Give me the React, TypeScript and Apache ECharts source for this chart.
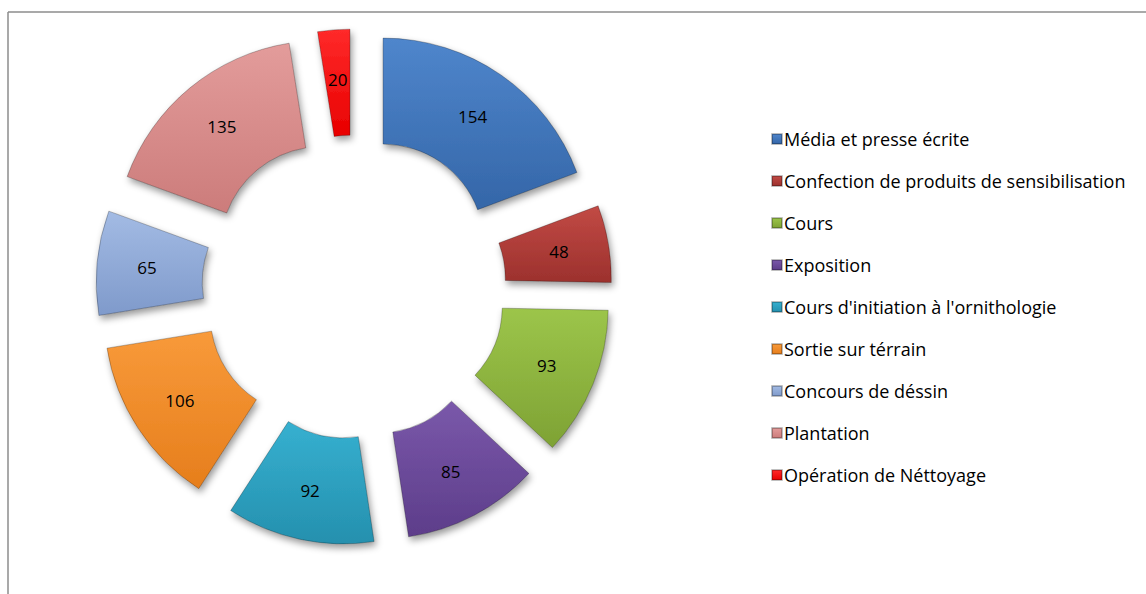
import React, { useEffect, useRef } from "react";
import * as echarts from "echarts";

const categories = [
  "Média et presse écrite",
  "Confection de produits de sensibilisation",
  "Cours",
  "Exposition",
  "Cours d'initiation à l'ornithologie",
  "Sortie sur térrain",
  "Concours de déssin",
  "Plantation",
  "Opération de Néttoyage",
];
const values = [154, 48, 93, 85, 92, 106, 65, 135, 20];
const colorsLight = ["#4f86cc", "#c24a45", "#9cc54a", "#7a58aa", "#36b0d0", "#f89a3a", "#a3bbe4", "#e39c9b", "#ff2a2a"];
const colorsDark = ["#3466a8", "#9c312d", "#7ea234", "#5d3d8a", "#2590ae", "#e67e1c", "#7f9acb", "#cc7c7b", "#e80000"];

export default function App() {
  const ref = useRef<HTMLDivElement>(null);
  useEffect(() => {
    if (!ref.current) return;
    const chart = echarts.init(ref.current, null, { renderer: "svg" });
    const data = categories.map((name, i) => ({
      name,
      value: values[i],
      selected: true,
      itemStyle: {
        color: new echarts.graphic.LinearGradient(0, 0, 0, 1, [
          { offset: 0, color: colorsLight[i] },
          { offset: 1, color: colorsDark[i] },
        ]),
      },
    }));
    chart.setOption({
      animation: false,
      backgroundColor: "#ffffff",
      graphic: [
        { type: "line", shape: { x1: 8, y1: 12, x2: 1146, y2: 12 }, style: { stroke: "#8c8c8c", lineWidth: 1.5 } },
        { type: "line", shape: { x1: 8, y1: 12, x2: 8, y2: 594 }, style: { stroke: "#8c8c8c", lineWidth: 1.5 } },
      ],
      legend: {
        orient: "vertical",
        left: 766,
        top: 123,
        icon: "rect",
        itemWidth: 10,
        itemHeight: 10,
        itemGap: 20,
        selectedMode: false,
        textStyle: { fontFamily: "Open Sans", fontSize: 18, color: "#000", lineHeight: 22, padding: [0, 0, 0, -3] },
        data: categories,
      },
      series: [
        {
          type: "pie",
          center: [354, 287],
          radius: [101, 207],
          startAngle: 90,
          clockwise: true,
          selectedMode: "multiple",
          selectedOffset: 51,
          avoidLabelOverlap: false,
          label: {
            show: true,
            position: "inside",
            formatter: "{c}",
            color: "#000",
            fontFamily: "Open Sans",
            fontSize: 17,
          },
          labelLine: { show: false },
          itemStyle: {
            borderColor: "rgba(0,0,0,0.25)",
            borderWidth: 1,
            shadowBlur: 7,
            shadowOffsetX: 2,
            shadowOffsetY: 4,
            shadowColor: "rgba(0,0,0,0.4)",
          },
          emphasis: { disabled: true },
          data,
        },
      ],
    });
    return () => chart.dispose();
  }, []);
  return <div ref={ref} style={{ position: "absolute", left: 0, top: 0, width: 1146, height: 594 }} />;
}
